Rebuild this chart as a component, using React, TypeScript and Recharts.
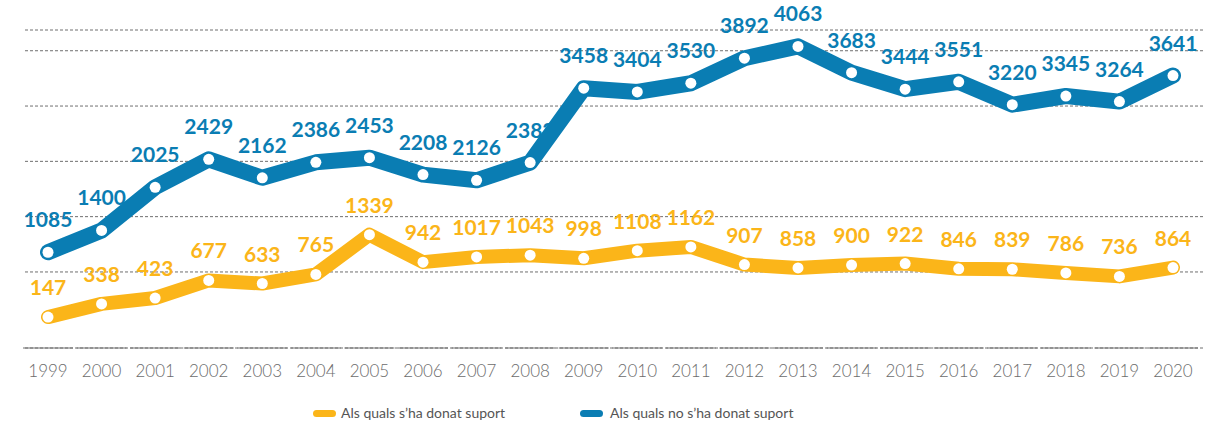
import { CartesianGrid, LabelList, Legend, Line, LineChart, XAxis, YAxis } from "recharts";

const years = ["1999", "2000", "2001", "2002", "2003", "2004", "2005", "2006", "2007", "2008", "2009", "2010", "2011", "2012", "2013", "2014", "2015", "2016", "2017", "2018", "2019", "2020"];
const supported = [147, 338, 423, 677, 633, 765, 1339, 942, 1017, 1043, 998, 1108, 1162, 907, 858, 900, 922, 846, 839, 786, 736, 864];
const notSupported = [1085, 1400, 2025, 2429, 2162, 2386, 2453, 2208, 2126, 2382, 3458, 3404, 3530, 3892, 4063, 3683, 3444, 3551, 3220, 3345, 3264, 3641];
const gridTicks = [800, 1600, 2400, 3200, 4000];

const BLUE = "#0a7db3";
const ORANGE = "#fbb519";
const FONT = "Lato, 'Open Sans', sans-serif";

const data = years.map((year, i) => ({ year, supported: supported[i], notSupported: notSupported[i] }));

const YearTick = (props: any) => {
    const { x, y, payload } = props;
    return (
        <g>
            <line x1={x - 25} x2={x + 25} y1={y} y2={y} stroke="#6f6f6f" strokeWidth={1.2} />
            <text x={x} y={y + 29} textAnchor="middle" fill="#6c6c6c" fontSize={17} fontWeight={300} fontFamily={FONT}>
                {payload.value}
            </text>
        </g>
    );
};

const Dot = (props: any) => {
    const { cx, cy } = props;
    if (cx == null || cy == null) return null;
    return <circle cx={cx} cy={cy} r={5.5} fill="#fff" />;
};

const LegendContent = () => (
    <div style={{ position: "relative", height: 20, fontFamily: FONT, fontSize: 14, color: "#555" }}>
        <div style={{ position: "absolute", left: 313, top: 7, width: 23, height: 7, borderRadius: 4, background: ORANGE }} />
        <div style={{ position: "absolute", left: 341, top: 0, lineHeight: "20px", whiteSpace: "nowrap" }}>Als quals s’ha donat suport</div>
        <div style={{ position: "absolute", left: 580, top: 7, width: 23, height: 7, borderRadius: 4, background: BLUE }} />
        <div style={{ position: "absolute", left: 610, top: 0, lineHeight: "20px", whiteSpace: "nowrap" }}>Als quals no s’ha donat suport</div>
    </div>
);

export default function App() {
    return (
        <div style={{ width: 1227, height: 425, background: "#fff" }}>
            <style>{`body{margin:0}`}</style>
            <LineChart width={1227} height={425} data={data} margin={{ top: 30, right: 24, bottom: 2, left: 25 }}>
                <CartesianGrid horizontal vertical={false} stroke="#6f6f6f" strokeDasharray="3 2" />
                <XAxis
                    dataKey="year"
                    axisLine={false}
                    tickLine={false}
                    tickSize={0}
                    tickMargin={0}
                    height={55}
                    interval={0}
                    padding={{ left: 23, right: 30 }}
                    tick={<YearTick />}
                />
                <YAxis hide domain={[-300, 4300]} ticks={gridTicks} />
                <Legend verticalAlign="bottom" height={20} wrapperStyle={{ left: 0, width: 1227 }} content={<LegendContent />} />
                <Line
                    dataKey="supported"
                    name="Als quals s’ha donat suport"
                    stroke={ORANGE}
                    strokeWidth={14}
                    strokeLinecap="round"
                    strokeLinejoin="round"
                    dot={<Dot />}
                    activeDot={false}
                    isAnimationActive={false}
                >
                    <LabelList dataKey="supported" position="top" offset={22} fill={ORANGE} fontSize={21} fontWeight={700} fontFamily={FONT} />
                </Line>
                <Line
                    dataKey="notSupported"
                    name="Als quals no s’ha donat suport"
                    stroke={BLUE}
                    strokeWidth={16}
                    strokeLinecap="round"
                    strokeLinejoin="round"
                    dot={<Dot />}
                    activeDot={false}
                    isAnimationActive={false}
                >
                    <LabelList dataKey="notSupported" position="top" offset={25} fill={BLUE} fontSize={21} fontWeight={700} fontFamily={FONT} />
                </Line>
            </LineChart>
        </div>
    );
}
